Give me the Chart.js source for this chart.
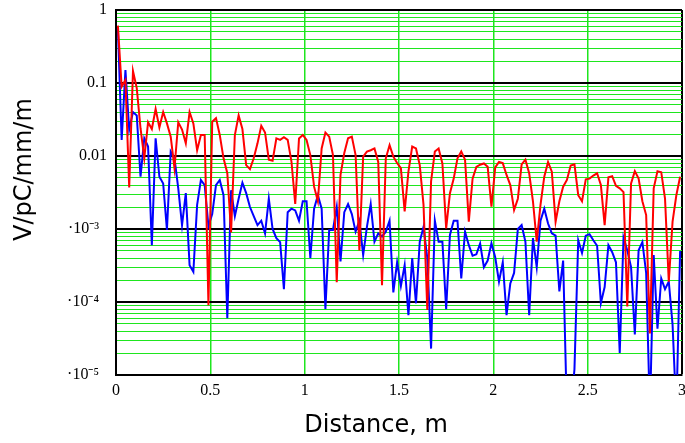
<!DOCTYPE html>
<html>
<head>
  <meta charset="UTF-8">
  <title>Wake potential vs distance</title>
  <style>
    body { margin: 0; background: #fff; }
  </style>
  <script src="https://cdn.jsdelivr.net/npm/chart.js"></script>
</head>
<body>
  <canvas id="wakeChart" width="685" height="443"></canvas>

  <script>
  // sample positions along the structure (m)
  const distances = [
    0.01, 0.03, 0.05, 0.07, 0.09, 0.11, 0.13, 0.15, 0.17, 0.19,
    0.21, 0.23, 0.25, 0.27, 0.29, 0.31, 0.33, 0.35, 0.37, 0.39,
    0.41, 0.43, 0.45, 0.47, 0.49, 0.51, 0.53, 0.55, 0.57, 0.59,
    0.61, 0.63, 0.65, 0.67, 0.69, 0.71, 0.73, 0.75, 0.77, 0.79,
    0.81, 0.83, 0.85, 0.87, 0.89, 0.91, 0.93, 0.95, 0.97, 0.99,
    1.01, 1.03, 1.05, 1.07, 1.09, 1.11, 1.13, 1.15, 1.17, 1.19,
    1.21, 1.23, 1.25, 1.27, 1.29, 1.31, 1.33, 1.35, 1.37, 1.39,
    1.41, 1.43, 1.45, 1.47, 1.49, 1.51, 1.53, 1.55, 1.57, 1.59,
    1.61, 1.63, 1.65, 1.67, 1.69, 1.71, 1.73, 1.75, 1.77, 1.79,
    1.81, 1.83, 1.85, 1.87, 1.89, 1.91, 1.93, 1.95, 1.97, 1.99,
    2.01, 2.03, 2.05, 2.07, 2.09, 2.11, 2.13, 2.15, 2.17, 2.19,
    2.21, 2.23, 2.25, 2.27, 2.29, 2.31, 2.33, 2.35, 2.37, 2.39,
    2.41, 2.43, 2.45, 2.47, 2.49, 2.51, 2.53, 2.55, 2.57, 2.59,
    2.61, 2.63, 2.65, 2.67, 2.69, 2.71, 2.73, 2.75, 2.77, 2.79,
    2.81, 2.83, 2.85, 2.87, 2.89, 2.91, 2.93, 2.95, 2.97, 2.99
  ];

  // red trace, V/pC/mm/m
  const redValues = [
    0.61, 0.089, 0.11, 0.0037, 0.146, 0.085, 0.024, 0.0093, 0.029, 0.0234,
    0.044, 0.0246, 0.04, 0.028, 0.0184, 0.0068, 0.029, 0.023, 0.0149, 0.04,
    0.028, 0.012, 0.0194, 0.0194, 0.00009, 0.0295, 0.033, 0.0194, 0.0093, 0.0058,
    0.0009, 0.0194, 0.036, 0.0234, 0.0075, 0.0066, 0.0093, 0.0149, 0.026, 0.021,
    0.0089, 0.0086, 0.0174, 0.0166, 0.0181, 0.0166, 0.0084, 0.0022, 0.0174, 0.0194,
    0.0166, 0.0103, 0.0038, 0.0024, 0.0127, 0.021, 0.0184, 0.0103, 0.000186, 0.0055,
    0.011, 0.0175, 0.0184, 0.0103, 0.00051, 0.0098, 0.0115, 0.012, 0.0127, 0.0083,
    0.00017, 0.0093, 0.0141, 0.0098, 0.008, 0.0068, 0.00174, 0.0061, 0.0135, 0.0127,
    0.0075, 0.00214, 0.000078, 0.0045, 0.0115, 0.0127, 0.0079, 0.00102, 0.0031, 0.0049,
    0.0093, 0.0115, 0.0089, 0.00126, 0.0049, 0.0071, 0.0076, 0.0079, 0.0071, 0.00203,
    0.007, 0.0083, 0.008, 0.0055, 0.004, 0.00182, 0.0026, 0.0077, 0.0089, 0.0058,
    0.0024, 0.00067, 0.00214, 0.0052, 0.0083, 0.0061, 0.00126, 0.0024, 0.0038, 0.0047,
    0.0074, 0.0077, 0.0029, 0.0024, 0.0048, 0.0049, 0.0054, 0.0058, 0.004, 0.00113,
    0.0051, 0.0053, 0.0039, 0.0036, 0.0032, 0.000087, 0.0042, 0.0062, 0.0049, 0.0024,
    0.00155, 0.000037, 0.0036, 0.0062, 0.006, 0.0026, 0.00019, 0.00126, 0.0029, 0.0052
  ];

  // blue trace, V/pC/mm/m
  const blueValues = [
    0.56, 0.0166, 0.15, 0.023, 0.04, 0.036, 0.0052, 0.0175, 0.0135, 0.0006,
    0.0175, 0.0052, 0.0042, 0.00097, 0.0115, 0.0093, 0.0036, 0.00113, 0.0031, 0.00032,
    0.00026, 0.00214, 0.0047, 0.004, 0.0011, 0.0016, 0.004, 0.0047, 0.0029, 0.00006,
    0.0034, 0.0015, 0.0026, 0.0043, 0.0031, 0.002, 0.0015, 0.00113, 0.0013, 0.00087,
    0.0026, 0.001, 0.00075, 0.00066, 0.00015, 0.0017, 0.0019, 0.0018, 0.0013, 0.0024,
    0.0024, 0.0004, 0.0019, 0.0029, 0.0019, 0.00008, 0.00097, 0.00097, 0.002, 0.00036,
    0.0017, 0.0022, 0.0016, 0.00092, 0.0013, 0.00044, 0.00107, 0.0022, 0.00067, 0.00087,
    0.00079, 0.00092, 0.0013, 0.000135, 0.00035, 0.000166, 0.00032, 0.000066, 0.0004, 0.000096,
    0.00067, 0.00107, 0.0004, 0.000023, 0.0013, 0.00067, 0.00067, 0.00008, 0.00083, 0.0013,
    0.0013, 0.00021, 0.00092, 0.0006, 0.00043, 0.00045, 0.00063, 0.0003, 0.00037, 0.00064,
    0.00041, 0.00019, 0.00035, 0.000066, 0.00018, 0.00025, 0.001, 0.00113, 0.00067, 0.000066,
    0.00075, 0.0003, 0.0013, 0.0019, 0.00119, 0.00087, 0.00081, 0.00014, 0.00037, 0.000003,
    0.000003, 0.000012, 0.0007, 0.00047, 0.00081, 0.00085, 0.0007, 0.00059, 0.000097, 0.00016,
    0.0006, 0.00048, 0.00035, 0.00002, 0.00076, 0.00051, 0.0003, 0.000036, 0.00051, 0.00066,
    0.00025, 0.000003, 0.00044, 0.000043, 0.00021, 0.00015, 0.00019, 0.000049, 0.000003, 0.0005
  ];

  // labelled decades on the y axis
  const yDecades = [1, 0.1, 0.01, 0.001, 0.0001, 0.00001];
  const yDecadeLabels = ['1', '0.1', '0.01', '·10⁻³\u2002', '·10⁻⁴\u2002', '·10⁻⁵\u2002'];

  const gridGreen = '#1ee61e';
  const tickFont = { family: "'Liberation Serif', 'Times New Roman', serif", size: 16 };
  const titleFont = { family: "'Comic Sans MS', 'DejaVu Sans', sans-serif", size: 24 };

  function decadeIndex(v) {
    for (let i = 0; i < yDecades.length; i++) {
      if (Math.abs(v - yDecades[i]) < yDecades[i] * 1e-6) return i;
    }
    return -1;
  }

  function toPoints(vals) {
    return vals.map((v, i) => ({ x: distances[i], y: v }));
  }

  const ctx = document.getElementById("wakeChart").getContext("2d");
  const wakeChart = new Chart(ctx, {
    type: "line",
    data: {
      datasets: [
        { label: "red", data: toPoints(redValues), borderColor: "#ff0000", borderWidth: 2, pointRadius: 0, fill: false },
        { label: "blue", data: toPoints(blueValues), borderColor: "#0000ff", borderWidth: 2, pointRadius: 0, fill: false }
      ]
    },
    options: {
      responsive: false,
      animation: false,
      layout: { padding: { top: 10, right: 3, left: 0, bottom: 0 } },
      plugins: { legend: { display: false }, tooltip: { enabled: false } },
      elements: { line: { tension: 0 } },
      scales: {
        x: {
          type: "linear",
          min: 0,
          max: 3,
          afterFit: s => { s.height = 68; s.paddingLeft = 0; s.paddingRight = 0; },
          ticks: {
            stepSize: 0.5,
            maxRotation: 0,
            padding: 6,
            color: "#000",
            font: tickFont,
            callback: v => String(v)
          },
          grid: {
            drawTicks: false,
            color: c => (c.tick && c.tick.value >= 3) ? "#000" : gridGreen,
            lineWidth: c => (c.tick && c.tick.value >= 3) ? 2 : 1.5
          },
          border: { color: "#000", width: 2 },
          title: {
            display: true,
            text: "Distance, m\u00a0\u00a0\u00a0\u00a0\u00a0\u00a0",
            color: "#000",
            font: titleFont,
            padding: { top: 0, bottom: 3 }
          }
        },
        y: {
          type: "logarithmic",
          min: 0.00001,
          max: 1,
          afterFit: s => { s.width = 116; s.paddingTop = 0; s.paddingBottom = 0; },
          afterBuildTicks: s => {
            const ticks = [];
            for (let k = yDecades.length - 1; k >= 0; k--) {
              const d = yDecades[k];
              ticks.push({ value: d });
              if (d < 1) {
                for (let m = 2; m <= 9; m++) ticks.push({ value: d * m });
              }
            }
            s.ticks = ticks;
          },
          ticks: {
            autoSkip: false,
            padding: 9,
            color: "#000",
            font: tickFont,
            callback: v => {
              const i = decadeIndex(v);
              return i >= 0 ? yDecadeLabels[i] : "";
            }
          },
          grid: {
            drawTicks: false,
            color: c => (c.tick && decadeIndex(c.tick.value) >= 0) ? "#000" : gridGreen,
            lineWidth: c => (c.tick && decadeIndex(c.tick.value) >= 0) ? 2 : 1
          },
          border: { color: "#000", width: 2 },
          title: {
            display: true,
            text: "\u00a0\u00a0\u00a0\u00a0\u00a0\u00a0V/pC/mm/m",
            color: "#000",
            font: titleFont,
            padding: { top: 10, bottom: 0 }
          }
        }
      }
    }
  });
  </script>
</body>
</html>
